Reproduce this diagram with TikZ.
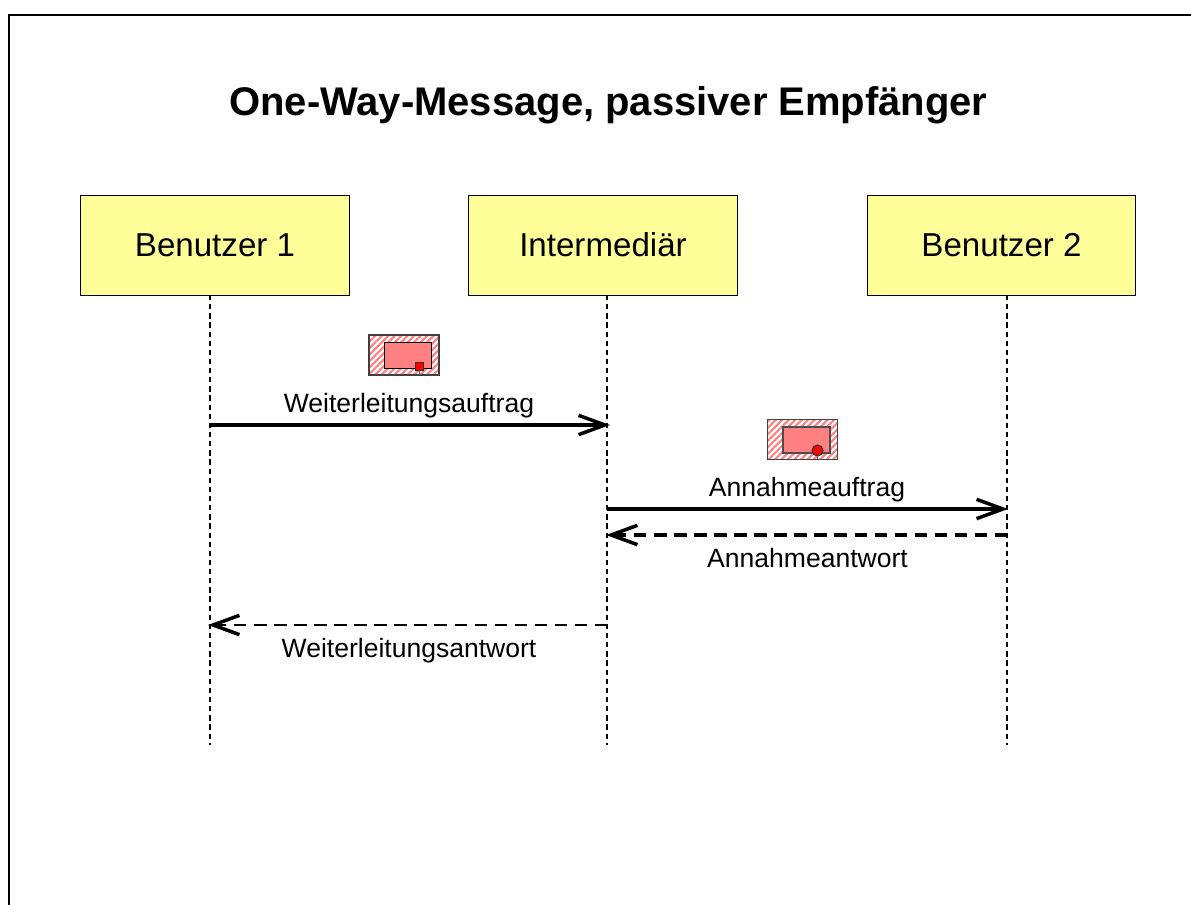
\documentclass[tikz,border=0pt]{standalone}
\usepackage{fontspec}
\setmainfont{Liberation Sans}
\usetikzlibrary{arrows.meta,patterns.meta,positioning}
\definecolor{boxyellow}{RGB}{255,255,153}
\definecolor{iconred}{RGB}{255,128,128}
\tikzset{
  actorbox/.style={rectangle,draw=black,line width=0.4pt,fill=boxyellow,minimum width=5.37cm,minimum height=2cm,font=\fontsize{18.85pt}{20pt}\selectfont},
  lifeline/.style={dashed,dash pattern=on 3pt off 2.2pt,line width=0.6pt},
  msg/.style={-{Straight Barb[length=15pt,width=11pt,line width=2pt]},line width=1.8pt},
  reply/.style={msg,dash pattern=on 7pt off 4.4pt},
  msglabel/.style={font=\fontsize{15.1pt}{16pt}\selectfont},
  iconframe/.style={rectangle,draw=black!75,line width=0.6pt,minimum width=1.4cm,minimum height=0.8cm,inner sep=0pt,
    pattern={Lines[angle=45,distance=2.6pt,line width=1.2pt]},pattern color=iconred},
  iconinner/.style={rectangle,draw=black!85,line width=0.6pt,fill=iconred,minimum width=0.94cm,minimum height=0.52cm,inner sep=0pt},
  icondot/.style={circle,draw=black!80,fill=red,line width=0.6pt,minimum size=0.22cm,inner sep=0pt},
}
\begin{document}
\begin{tikzpicture}[x=0.02cm,y=-0.02cm]
\useasboundingbox (0,0) rectangle (1191,905);
% frame
\coordinate (fa) at (9,905);
\coordinate (fb) at (9,15);
\coordinate (fc) at (1191,15);
\draw[line width=1.2pt] (fa) -- (fb) -- (fc);
\node (title) at (608.5,105) {\fontsize{22.75pt}{24pt}\selectfont\bfseries One-Way-Message, passiver Empfänger};
%
\node (b1) [actorbox] at (215,245) {\raisebox{-1pt}{Benutzer 1}};
\node (im) [actorbox] at (603,245) {\raisebox{-1pt}{Intermediär}};
\node (b2) [actorbox] at (1001.5,245) {\raisebox{-1pt}{Benutzer 2}};
%
\coordinate (t1) at (210,295);
\coordinate (t2) at (607,295);
\coordinate (t3) at (1007,295);
\coordinate (e1) at (210,745);
\coordinate (e2) at (607,745);
\coordinate (e3) at (1007,745);
\draw[lifeline] (t1) -- (e1);
\draw[lifeline] (t2) -- (e2);
\draw[lifeline] (t3) -- (e3);
%
\coordinate (m1a) at (210,425);
\coordinate (m1b) at (610,425);
\coordinate (m2a) at (607,509);
\coordinate (m2b) at (1008,509);
\coordinate (m3a) at (1007,535);
\coordinate (m3b) at (606,535);
\coordinate (m4a) at (607,625);
\coordinate (m4b) at (208,625);
\draw[msg] (m1a) -- (m1b);
\draw[msg,line width=2pt] (m2a) -- (m2b);
\draw[reply] (m3a) -- (m3b);
\draw[reply,line width=1.7pt] (m4a) -- (m4b);
%
\node (l1) [msglabel] at (409,406) {Weiterleitungsauftrag};
\node (l2) [msglabel] at (807,490) {Annahmeauftrag};
\node (l3) [msglabel] at (807.5,558) {Annahmeantwort};
\node (l4) [msglabel] at (409,651) {Weiterleitungsantwort};
% first icon
\node (i1) [iconframe] at (404,355) {};
\node (j1) [iconinner,draw=black] at (408,355.5) {};
\coordinate (s1) at (419.5,375);
\node (d1) [icondot,rectangle,minimum size=0.16cm] at (419.5,366.5) {};
\draw[black!60,line width=0.7pt] (d1) -- (s1);
% second icon
\node (i2) [iconframe] at (802.5,439.5) {};
\node (j2) [iconinner,draw=black!70] at (806.5,440) {};
\coordinate (s2) at (817.5,459.5);
\node (d2) [icondot] at (817.5,450.5) {};
\draw[black!60,line width=0.7pt] (d2) -- (s2);
\end{tikzpicture}
\end{document}
